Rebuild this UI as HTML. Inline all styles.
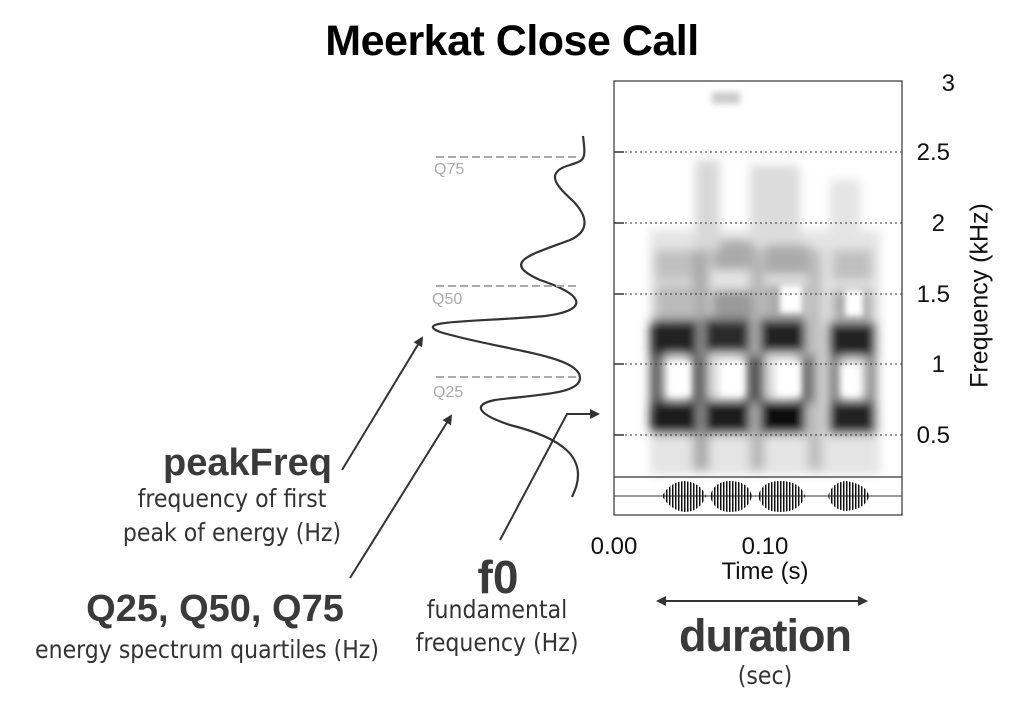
<!DOCTYPE html>
<html><head><meta charset="utf-8"><style>
html,body{margin:0;padding:0;background:#fff;}
body{width:1024px;height:711px;position:relative;overflow:hidden;font-family:"Liberation Sans",sans-serif;}
.t{position:absolute;white-space:nowrap;color:#3a3a3a;}
.b{font-weight:bold;letter-spacing:0;}
.h{font-family:"DejaVu Sans Condensed","Liberation Sans Narrow","Liberation Sans",sans-serif;font-size:25px;color:#333;transform:scaleX(0.98);transform-origin:center;}
.n{font-size:24px;color:#111;}
</style></head><body>
<svg width="1024" height="711" style="position:absolute;left:0;top:0">
<defs>
<filter id="bl" x="-20%" y="-20%" width="140%" height="140%"><feGaussianBlur stdDeviation="5"/></filter>
<filter id="bl2"><feGaussianBlur stdDeviation="3"/></filter>
<marker id="ah" markerWidth="10" markerHeight="10" refX="8" refY="5" orient="auto" markerUnits="userSpaceOnUse"><path d="M0,0 L10,5 L0,10 z" fill="#333"/></marker>
<pattern id="wv" width="3" height="40" patternUnits="userSpaceOnUse"><rect width="1.5" height="40" fill="#111"/></pattern>
</defs>
<g filter="url(#bl)">
<rect x="650" y="230" width="230" height="245" fill="#e4e4e4"/>
<rect x="655" y="250" width="45" height="30" fill="#c0c0c0"/>
<rect x="712" y="240" width="45" height="30" fill="#aaa"/>
<rect x="765" y="245" width="45" height="30" fill="#aaa"/>
<rect x="832" y="250" width="40" height="30" fill="#c0c0c0"/>
<rect x="695" y="160" width="25" height="90" fill="#d8d8d8"/>
<rect x="750" y="165" width="50" height="80" fill="#dcdcdc"/>
<rect x="830" y="180" width="30" height="60" fill="#e4e4e4"/>
<rect x="693" y="250" width="16" height="220" fill="#aaa"/>
<rect x="750" y="250" width="14" height="220" fill="#b5b5b5"/>
<rect x="808" y="250" width="14" height="220" fill="#bcbcbc"/>
<rect x="650" y="320" width="48" height="35" fill="#222"/>
<rect x="704" y="318" width="46" height="35" fill="#2a2a2a"/>
<rect x="760" y="318" width="46" height="35" fill="#222"/>
<rect x="828" y="322" width="48" height="35" fill="#222"/>
<rect x="650" y="400" width="48" height="34" fill="#1a1a1a"/>
<rect x="704" y="400" width="46" height="34" fill="#1a1a1a"/>
<rect x="760" y="400" width="46" height="34" fill="#111"/>
<rect x="828" y="400" width="48" height="34" fill="#222"/>
<rect x="650" y="355" width="14" height="48" fill="#555"/>
<rect x="690" y="355" width="18" height="48" fill="#666"/>
<rect x="745" y="355" width="20" height="48" fill="#555"/>
<rect x="800" y="355" width="14" height="48" fill="#666"/>
<rect x="828" y="355" width="12" height="48" fill="#777"/>
<rect x="866" y="355" width="10" height="48" fill="#777"/>
<rect x="712" y="290" width="40" height="30" fill="#999"/>
<rect x="765" y="285" width="40" height="35" fill="#aaa"/>
<rect x="832" y="290" width="40" height="30" fill="#aaa"/>
<rect x="655" y="285" width="40" height="35" fill="#bbb"/>
</g>
<g filter="url(#bl2)">
<rect x="668" y="362" width="22" height="34" fill="#fff"/>
<rect x="720" y="362" width="24" height="34" fill="#fff"/>
<rect x="776" y="362" width="24" height="34" fill="#fff"/>
<rect x="842" y="366" width="18" height="30" fill="#fff"/>
<rect x="780" y="285" width="22" height="28" fill="#fff"/>
<rect x="845" y="290" width="18" height="26" fill="#fff"/>
<rect x="712" y="92" width="28" height="12" fill="#ccc"/>
</g>
<rect x="614" y="81" width="288" height="434" fill="none" stroke="#333" stroke-width="1.2"/>
<line x1="614" y1="477" x2="902" y2="477" stroke="#333" stroke-width="1.2"/>
<g stroke="#333" stroke-width="1" stroke-dasharray="2,3">
<line x1="620" y1="152" x2="902" y2="152"/><line x1="620" y1="223" x2="902" y2="223"/>
<line x1="620" y1="294" x2="902" y2="294"/><line x1="620" y1="364" x2="902" y2="364"/>
<line x1="620" y1="435" x2="902" y2="435"/>
</g>
<g stroke="#333" stroke-width="1.5"><line x1="614" y1="152" x2="624" y2="152"/><line x1="614" y1="223" x2="624" y2="223"/><line x1="614" y1="294" x2="624" y2="294"/><line x1="614" y1="364" x2="624" y2="364"/><line x1="614" y1="435" x2="624" y2="435"/></g>
<line x1="614" y1="496" x2="902" y2="496" stroke="#333" stroke-width="1"/>
<g fill="url(#wv)">
<path d="M662,496 Q670,482 684,481 Q700,482 706,496 Q700,512 684,512 Q670,510 662,496z"/>
<path d="M710,496 Q714,481 730,481 Q748,481 752,496 Q748,512 730,512 Q714,512 710,496z"/>
<path d="M758,496 Q762,481 780,481 Q800,481 805,496 Q800,512 780,512 Q762,512 758,496z"/>
<path d="M828,496 Q832,482 846,481 Q866,484 869,496 Q866,509 846,511 Q832,510 828,496z"/>
</g>
<path d="M583,136 C586,160 585,160 570,165 C545,172 555,185 572,200 C590,218 588,232 570,240 C530,255 500,262 540,280 C585,295 590,310 545,316 C480,322 410,320 440,332 C500,350 580,355 580,378 C580,395 530,395 495,400 C470,405 480,415 510,425 C570,440 578,460 578,475 C578,485 574,492 572,497" fill="none" stroke="#333" stroke-width="2.2"/>
<g stroke="#aaa" stroke-width="2" stroke-dasharray="8,4">
<line x1="436" y1="157" x2="580" y2="157"/><line x1="436" y1="286" x2="580" y2="286"/><line x1="436" y1="377" x2="580" y2="377"/>
</g>
<g stroke="#333" stroke-width="2" fill="none" marker-end="url(#ah)">
<line x1="342" y1="470" x2="422" y2="338"/>
<line x1="350" y1="578" x2="451" y2="416"/>
<polyline points="500,540 567,414 598,414"/>
<line x1="760" y1="601" x2="866" y2="601"/>
<line x1="770" y1="601" x2="658" y2="601"/>
</g>
</svg>
<div class="t b" style="left:0;width:1024px;text-align:center;top:17px;font-size:43px;color:#000;letter-spacing:-0.5px">Meerkat Close Call</div>
<div class="t" style="left:434px;top:161px;font-size:16px;color:#aaa">Q75</div>
<div class="t" style="left:432px;top:291px;font-size:16px;color:#aaa">Q50</div>
<div class="t" style="left:433px;top:384px;font-size:16px;color:#aaa">Q25</div>
<div class="t n" style="left:915px;top:70px;width:40px;text-align:right">3</div>
<div class="t n" style="left:900px;top:139px;width:50px;text-align:right">2.5</div>
<div class="t n" style="left:905px;top:210px;width:40px;text-align:right">2</div>
<div class="t n" style="left:900px;top:281px;width:50px;text-align:right">1.5</div>
<div class="t n" style="left:905px;top:351px;width:40px;text-align:right">1</div>
<div class="t n" style="left:900px;top:422px;width:50px;text-align:right">0.5</div>
<div class="t" style="left:880px;top:281px;width:200px;text-align:center;font-size:25px;color:#111;transform:rotate(-90deg)">Frequency (kHz)</div>
<div class="t n" style="left:574px;top:533px;width:80px;text-align:center">0.00</div>
<div class="t n" style="left:725px;top:533px;width:80px;text-align:center">0.10</div>
<div class="t n" style="left:695px;top:558px;width:140px;text-align:center">Time (s)</div>
<div class="t b" style="left:655px;top:610px;width:220px;text-align:center;font-size:45px;letter-spacing:-1px">duration</div>
<div class="t h" style="left:715px;top:661px;width:100px;text-align:center">(sec)</div>
<div class="t b" style="left:100px;top:442px;width:232px;text-align:right;font-size:38px">peakFreq</div>
<div class="t h" style="left:92px;top:484px;width:280px;text-align:center">frequency of first</div>
<div class="t h" style="left:92px;top:518px;width:280px;text-align:center">peak of energy (Hz)</div>
<div class="t b" style="left:40px;top:588px;width:350px;text-align:center;font-size:38px">Q25, Q50, Q75</div>
<div class="t h" style="left:0px;top:635px;width:414px;text-align:center">energy spectrum quartiles (Hz)</div>
<div class="t b" style="left:448px;top:550px;width:100px;text-align:center;font-size:46px">f0</div>
<div class="t h" style="left:407px;top:595px;width:180px;text-align:center">fundamental</div>
<div class="t h" style="left:407px;top:628px;width:180px;text-align:center">frequency (Hz)</div>
</body></html>
